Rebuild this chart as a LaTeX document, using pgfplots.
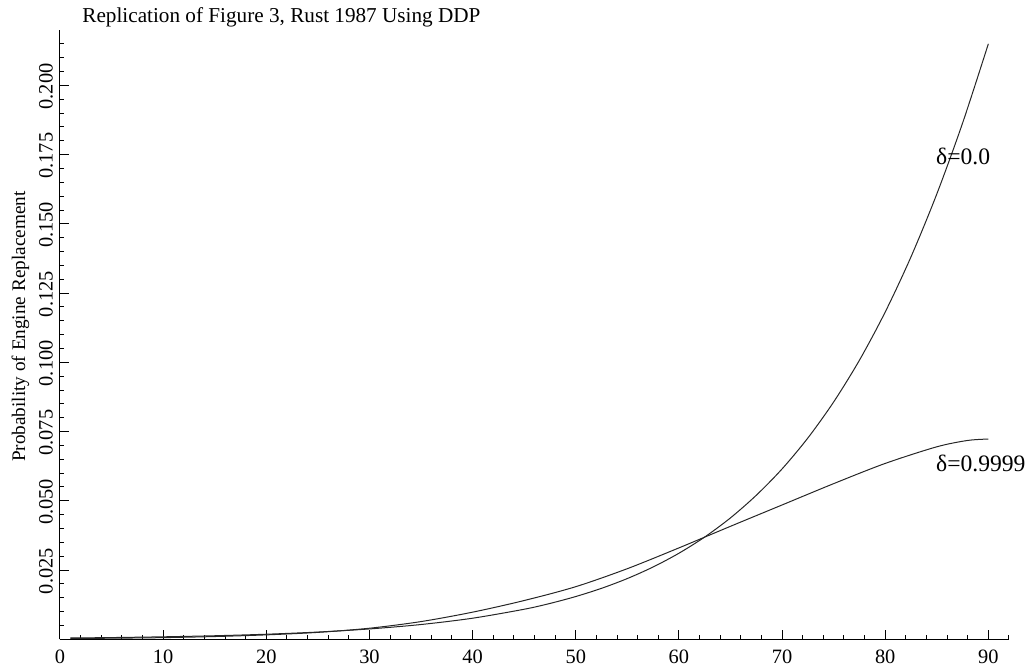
\documentclass[border=0pt]{standalone}
\usepackage{fontspec}
\setmainfont{Liberation Serif}
\usepackage{pgfplots}
\pgfplotsset{compat=1.18}
\begin{document}
\fontsize{10pt}{12pt}\selectfont
\begin{tikzpicture}
\begin{axis}[
  at={(0,0)}, anchor=south west,
  scale only axis,
  width=474.5pt, height=304.65pt,
  xmin=0, xmax=92, ymin=0, ymax=0.22,
  axis lines*=left,
  axis line style={black, line width=0.5pt},
  xtick={0,10,...,90},
  minor xtick={2,4,6,8,12,14,16,18,22,24,26,28,32,34,36,38,42,44,46,48,52,54,56,58,62,64,66,68,72,74,76,78,82,84,86,88,92},
  ytick={0.025,0.05,0.075,0.1,0.125,0.15,0.175,0.2},
  minor ytick={0.005,0.01,0.015,0.02,0.03,0.035,0.04,0.045,0.055,0.06,0.065,0.07,0.08,0.085,0.09,0.095,0.105,0.11,0.115,0.12,0.13,0.135,0.14,0.145,0.155,0.16,0.165,0.17,0.18,0.185,0.19,0.195,0.205,0.21,0.215},
  major tick length=4.5pt, minor tick length=2pt,
  tick style={black, line width=0.5pt},
  tick align=inside,
  /pgf/number format/assume math mode=true,
  yticklabel style={/pgf/number format/fixed, /pgf/number format/fixed zerofill, /pgf/number format/precision=3, rotate=90, anchor=south, xshift=-0.5pt},
  scaled y ticks=false,
  xticklabel style={anchor=north, yshift=-2pt},
  xticklabel={\pgfmathprintnumber[assume math mode=true]{\tick}},
  ylabel={Probability of Engine Replacement},
  ylabel style={at={(ticklabel cs:0.513)}, yshift=-2pt},
  tick label style={font=\fontsize{10.2pt}{12pt}\selectfont},
  label style={font=\fontsize{9.6pt}{12pt}\selectfont},
  clip=false,
]
\addplot[black!85, line width=0.5pt, smooth] coordinates {
(1,0.000472) (5,0.000628) (10,0.000898) (15,0.001283) (20,0.001833) (25,0.002619)
(30,0.003740) (35,0.005337) (40,0.007616) (45,0.010851) (47.5,0.012948) (50,0.015443)
(52.5,0.018410) (55,0.021935)
(57.5,0.026116) (60,0.031066) (62.5,0.036928) (65,0.043840) (67.5,0.051999)
(70,0.061508) (72.5,0.072674) (75,0.085683) (77.5,0.100756) (80,0.118161)
(82.5,0.138089) (85,0.160766) (87.5,0.186372) (90,0.215012)
};
\addplot[black!85, line width=0.5pt, smooth] coordinates {
(1,0.0003) (5,0.0004) (10,0.0006) (15,0.0010) (20,0.0016) (25,0.0025)
(30,0.0040) (35,0.0064) (40,0.0098) (45,0.0140) (50,0.0190) (55,0.0255)
(60,0.0330) (65,0.0408) (70,0.0485) (75,0.0562) (80,0.0635) (85,0.0695)
(88,0.0718) (90,0.0723)
};
\node[anchor=west, inner sep=0pt, font=\fontsize{11.8pt}{12pt}\selectfont] at (axis cs:84.9,0.1745) {δ=0.0};
\node[anchor=west, inner sep=0pt, font=\fontsize{11.8pt}{12pt}\selectfont] at (axis cs:84.9,0.0636) {δ=0.9999};
\node[anchor=base west, inner sep=0pt, font=\fontsize{10.6pt}{12pt}\selectfont] at ([xshift=11pt, yshift=3.5pt]rel axis cs:0,1) {Replication of Figure 3, Rust 1987 Using DDP};
\end{axis}
\pgfresetboundingbox
\useasboundingbox (-30pt,-14.85pt) rectangle (486.5pt,319.65pt);
\end{tikzpicture}
\end{document}
